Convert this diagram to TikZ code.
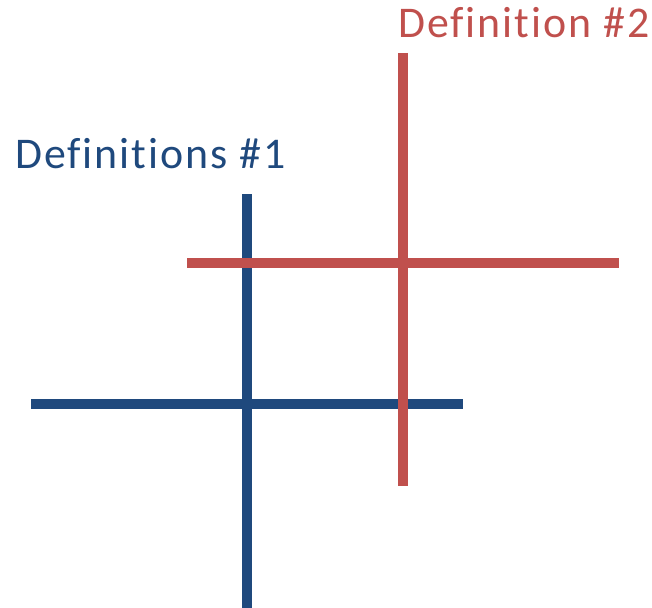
\documentclass[tikz,border=0pt]{standalone}
\usepackage{fontspec}
\setmainfont{Carlito}[Ligatures=NoCommon,LetterSpace=4.5]
\definecolor{defblue}{HTML}{1F497D}
\definecolor{defred}{HTML}{C0504D}
\begin{document}
\begin{tikzpicture}[x=1bp,y=-1bp,
  bar/.style={line width=10bp,line cap=butt},
  lbl/.style={inner sep=0pt,anchor=base west,font=\fontsize{44}{50}\selectfont}]
\useasboundingbox (0,0) rectangle (652,608);
% blue cross
\coordinate (bvt) at (247,194);
\coordinate (bvb) at (247,608);
\coordinate (bhl) at (31,404);
\coordinate (bhr) at (463,404);
\draw[bar,defblue] (bvt) -- (bvb);
\draw[bar,defblue] (bhl) -- (bhr);
% red cross
\coordinate (rvt) at (403,53);
\coordinate (rvb) at (403,486);
\coordinate (rhl) at (187,263);
\coordinate (rhr) at (619,263);
\draw[bar,defred] (rvt) -- (rvb);
\draw[bar,defred] (rhl) -- (rhr);
\node[lbl,text=defblue] (l1) at (15,169) {Definitions \#1};
\node[lbl,text=defred] (l2) at (398,38) {Definition \#2};
\end{tikzpicture}
\end{document}
